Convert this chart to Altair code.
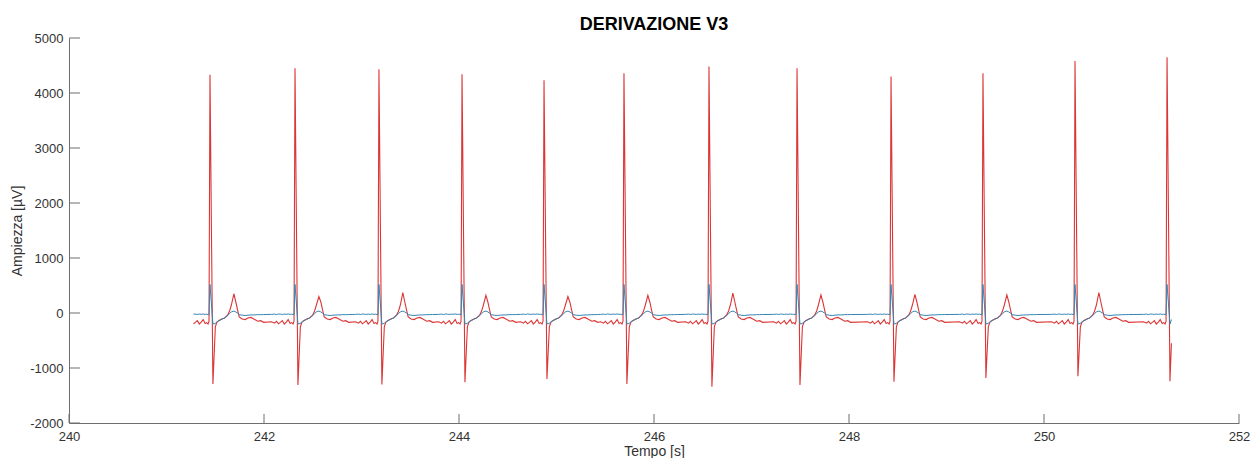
import altair as alt
import pandas as pd

# ---- axis ticks ----
x_ticks = [240, 242, 244, 246, 248, 250, 252]
y_ticks = [-2000, -1000, 0, 1000, 2000, 3000, 4000, 5000]

# ---- per-beat values ----
r_times = [241.446, 242.318, 243.179, 244.031, 244.872, 245.692,
           246.564, 247.467, 248.431, 249.374, 250.318, 251.262]
r_peaks = [4330, 4450, 4430, 4340, 4230, 4360, 4480, 4450, 4300, 4360, 4580, 4650]
s_troughs = [-1290, -1310, -1300, -1260, -1200, -1290, -1340, -1310, -1250, -1180, -1150, -1240]
t_peaks = [350, 300, 370, 320, 300, 320, 360, 330, 340, 330, 370, 350]

# ---- beat shape (offsets in s from the R peak) ----
tmpl_off = [-0.24, -0.21, -0.19, -0.17, -0.15, -0.13, -0.11, -0.09, -0.07, -0.05, -0.035, -0.02, -0.01,
            0.0, 0.03,
            0.055, 0.07, 0.09, 0.12, 0.15, 0.18, 0.20, 0.22, 0.245, 0.265, 0.285, 0.30,
            0.33, 0.36, 0.39, 0.42, 0.45, 0.49, 0.52, 0.55]
red_shape = [-160, -185, -150, -195, -170, -140, -200, -165, -120, -190, -175, -200, -150,
             "R", "S",
             -250, -170, -140, -110, -90, -40, 30, 150, "T", 200, 40, -70,
             -110, -120, -90, -80, -110, -150, -140, -170]
blue_shape = [-25, -20, -28, -18, -22, -26, -20, -24, -18, -25, -22, -28, -30,
              520, -200,
              -190, -160, -140, -115, -90, -50, -10, 20, 35, 20, -5, -30,
              -40, -45, -40, -35, -35, -30, -30, -28]
first_start = -0.18
last_stop = 0.03
red_end = [0.045, -550]
blue_end = [0.045, -120]

rows = []
n = len(r_times)
for i, tr in enumerate(r_times):
    for off, rv, bv in zip(tmpl_off, red_shape, blue_shape):
        if i == 0 and off < first_start:
            continue
        if i == n - 1 and off > last_stop:
            continue
        if rv == "R":
            rv = r_peaks[i]
        elif rv == "S":
            rv = s_troughs[i]
        elif rv == "T":
            rv = t_peaks[i]
        rows.append({"t": tr + off, "v": rv, "s": "red"})
        rows.append({"t": tr + off, "v": bv, "s": "blue"})
rows.append({"t": r_times[-1] + red_end[0], "v": red_end[1], "s": "red"})
rows.append({"t": r_times[-1] + blue_end[0], "v": blue_end[1], "s": "blue"})
df = pd.DataFrame(rows)

W, H = 1170, 385
FONT = "Liberation Sans"

xscale = alt.Scale(domain=[240, 252], nice=False, zero=False)
yscale = alt.Scale(domain=[-2000, 5000], nice=False, zero=False)

xaxis = alt.Axis(values=x_ticks, title="Tempo [s]", tickSize=0, labelPadding=7,
                 domainColor="#6e6e6e", labelColor="#333333", labelFontSize=13, labelFont=FONT,
                 titleFont=FONT, titleFontSize=14, titleFontWeight="normal", titleColor="#333333",
                 titleX=W / 2, titleY=35, titleBaseline="bottom", titleAlign="center",
                 grid=False, labelFlush=False, labelExpr="'' + datum.value")
yaxis = alt.Axis(values=y_ticks, title="Ampiezza [µV]", tickSize=0, labelPadding=6,
                 domainColor="#6e6e6e", labelColor="#333333", labelFontSize=13, labelFont=FONT,
                 titleFont=FONT, titleFontSize=14, titleFontWeight="normal", titleColor="#333333",
                 titleAngle=270, titleX=-52, titleY=H / 2, titleBaseline="middle", titleAlign="center",
                 grid=False, labelFlush=False, labelExpr="'' + datum.value")

X = alt.X("t:Q", scale=xscale, axis=xaxis)
Y = alt.Y("v:Q", scale=yscale, axis=yaxis)

red = alt.Chart(df[df.s == "red"]).mark_line(color="#dc3535", strokeWidth=1.1, clip=True).encode(
    x=X, y=Y, order="t:Q")
blue = alt.Chart(df[df.s == "blue"]).mark_line(color="#3385b3", strokeWidth=1.0, clip=True).encode(
    x=X, y=Y, order="t:Q")

ytk = alt.Chart(pd.DataFrame({"v": y_ticks})).mark_rule(color="#6e6e6e", strokeWidth=1).encode(
    y=Y, x=alt.value(0), x2=alt.value(11))
xtk = alt.Chart(pd.DataFrame({"t": x_ticks})).mark_rule(color="#6e6e6e", strokeWidth=1).encode(
    x=X, y=alt.value(H), y2=alt.value(H - 9))

chart = alt.layer(red, blue, ytk, xtk).properties(
    width=W, height=H,
    background="white",
    title=alt.TitleParams("DERIVAZIONE V3", font=FONT, fontSize=18, fontWeight="bold",
                          color="black", anchor="middle", offset=2, dy=4),
    autosize=alt.AutoSizeParams(type="none"),
    padding={"left": 61, "top": 30, "right": 12, "bottom": 35},
).configure_view(stroke=None)

chart.save("out.html", embed_options={"renderer": "svg", "actions": False})
